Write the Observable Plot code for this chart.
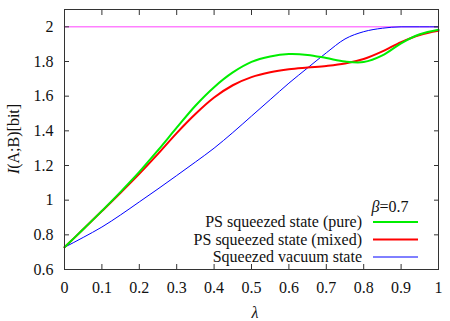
<!DOCTYPE html>
<html>
<head>
<meta charset="utf-8">
<script src="https://cdn.jsdelivr.net/npm/d3@7"></script>
<script src="https://cdn.jsdelivr.net/npm/@observablehq/plot@0.6"></script>
<style>
  body { margin: 0; font-family: "Liberation Serif", serif; font-size: 16px; }
  #chart { position: relative; width: 450px; height: 321px; }
  #warm { position: absolute; left: 0; top: 0; font: 16px "Liberation Serif"; color: transparent; }
</style>
</head>
<body>
<div id="warm">PS squeezed</div>
<div id="chart"></div>
<script>
const lambda = [0, 0.05, 0.1, 0.15, 0.2, 0.25, 0.3, 0.35, 0.4, 0.45, 0.5, 0.55, 0.6, 0.65, 0.7, 0.75, 0.8, 0.85, 0.9, 0.95, 1.0];
const psPure = [0.728, 0.832, 0.938, 1.048, 1.163, 1.288, 1.418, 1.545, 1.652, 1.737, 1.798, 1.829, 1.843, 1.838, 1.82, 1.80, 1.797, 1.835, 1.905, 1.957, 1.983];
const psMixed = [0.728, 0.832, 0.937, 1.043, 1.152, 1.267, 1.387, 1.497, 1.592, 1.663, 1.71, 1.738, 1.755, 1.765, 1.774, 1.788, 1.814, 1.858, 1.912, 1.953, 1.977];
const sqVacuum = [0.728, 0.785, 0.845, 0.915, 0.99, 1.065, 1.142, 1.22, 1.30, 1.39, 1.485, 1.58, 1.675, 1.763, 1.85, 1.93, 1.972, 1.992, 2.0, 2.0, 2.0];
const limitLine = [2, 2];
const limitX = [0, 1];
const xTicks = [0, 0.1, 0.2, 0.3, 0.4, 0.5, 0.6, 0.7, 0.8, 0.9, 1];
const xTickLabels = ["0", "0.1", "0.2", "0.3", "0.4", "0.5", "0.6", "0.7", "0.8", "0.9", "1"];
const yTicks = [0.6, 0.8, 1.0, 1.2, 1.4, 1.6, 1.8, 2.0];
const yTickLabels = ["0.6", "0.8", "1", "1.2", "1.4", "1.6", "1.8", "2"];
const seriesNames = ["PS squeezed state (pure)", "PS squeezed state (mixed)", "Squeezed vacuum state"];
const seriesColors = ["#00ee00", "#ff0000", "#0000ff"];
const seriesWidths = [2, 2, 1];
const legendSymbol = "\u03b2";
const legendTitle = "0.7";
const xLabel = "\u03bb";

const rows = (ys) => lambda.map((x, i) => ({x, y: ys[i]}));
const limitRows = limitX.map((x, i) => ({x, y: limitLine[i]}));
const xFmt = d => xTickLabels[xTicks.findIndex(t => Math.abs(t - d) < 1e-9)];
const yFmt = d => yTickLabels[yTicks.findIndex(t => Math.abs(t - d) < 1e-9)];

const chart = Plot.plot({
  width: 450,
  height: 321,
  marginLeft: 64,
  marginRight: 12,
  marginTop: 9,
  marginBottom: 52,
  style: {fontFamily: "Liberation Serif", fontSize: "16px"},
  x: {domain: [0, 1]},
  y: {domain: [0.6, 2.1]},
  marks: [
    Plot.line(limitRows, {x: "x", y: "y", stroke: "#ff80ff", strokeWidth: 1.5}),
    Plot.line(rows(sqVacuum), {x: "x", y: "y", stroke: seriesColors[2], strokeWidth: seriesWidths[2], curve: "monotone-x"}),
    Plot.line(rows(psMixed), {x: "x", y: "y", stroke: seriesColors[1], strokeWidth: seriesWidths[1], curve: "catmull-rom"}),
    Plot.line(rows(psPure), {x: "x", y: "y", stroke: seriesColors[0], strokeWidth: seriesWidths[0], curve: "catmull-rom"}),
    Plot.axisX({anchor: "bottom", ticks: xTicks, tickSize: -5, tickPadding: 17, tickFormat: xFmt, label: null, stroke: "#333", fill: "#111"}),
    Plot.axisX({anchor: "top", ticks: xTicks, tickSize: -5, tickFormat: () => "", label: null, stroke: "#333"}),
    Plot.axisY({anchor: "left", ticks: yTicks, tickSize: -5, tickPadding: 16, tickFormat: yFmt, label: null, stroke: "#333", fill: "#111"}),
    Plot.axisY({anchor: "right", ticks: yTicks, tickSize: -5, tickFormat: () => "", label: null, stroke: "#333"}),
    Plot.frame({stroke: "#333", strokeWidth: 1})
  ]
});
document.getElementById("chart").appendChild(chart);

// Axis titles and legend, added into the Plot SVG
const svg = d3.select(chart);
const ylab = svg.append("text")
  .attr("transform", "translate(19,139) rotate(-90)")
  .attr("text-anchor", "middle")
  .attr("font-family", "Liberation Serif")
  .attr("font-size", 16).attr("fill", "#111");
ylab.append("tspan").attr("font-style", "italic").text("I");
ylab.append("tspan").text("(A;B)[bit]");

svg.append("text")
  .attr("x", 255).attr("y", 318)
  .attr("text-anchor", "middle")
  .attr("font-family", "Liberation Serif")
  .attr("font-size", 16).attr("font-style", "italic").attr("fill", "#111")
  .text(xLabel);

const lt = svg.append("text")
  .attr("x", 390).attr("y", 212)
  .attr("text-anchor", "middle")
  .attr("font-family", "Liberation Serif")
  .attr("font-size", 16).attr("fill", "#111");
lt.append("tspan").attr("font-style", "italic").text(legendSymbol);
lt.append("tspan").text("=" + legendTitle);

const legendY = [222, 239.5, 257];
seriesNames.forEach((name, i) => {
  svg.append("text")
    .attr("x", 362).attr("y", legendY[i] + 5)
    .attr("text-anchor", "end")
    .attr("font-family", "Liberation Serif")
    .attr("font-size", 16).attr("fill", "#111")
    .text(name);
  svg.append("line")
    .attr("x1", 373).attr("x2", 418)
    .attr("y1", legendY[i]).attr("y2", legendY[i])
    .attr("stroke", seriesColors[i])
    .attr("stroke-width", seriesWidths[i]);
});
</script>
</body>
</html>
